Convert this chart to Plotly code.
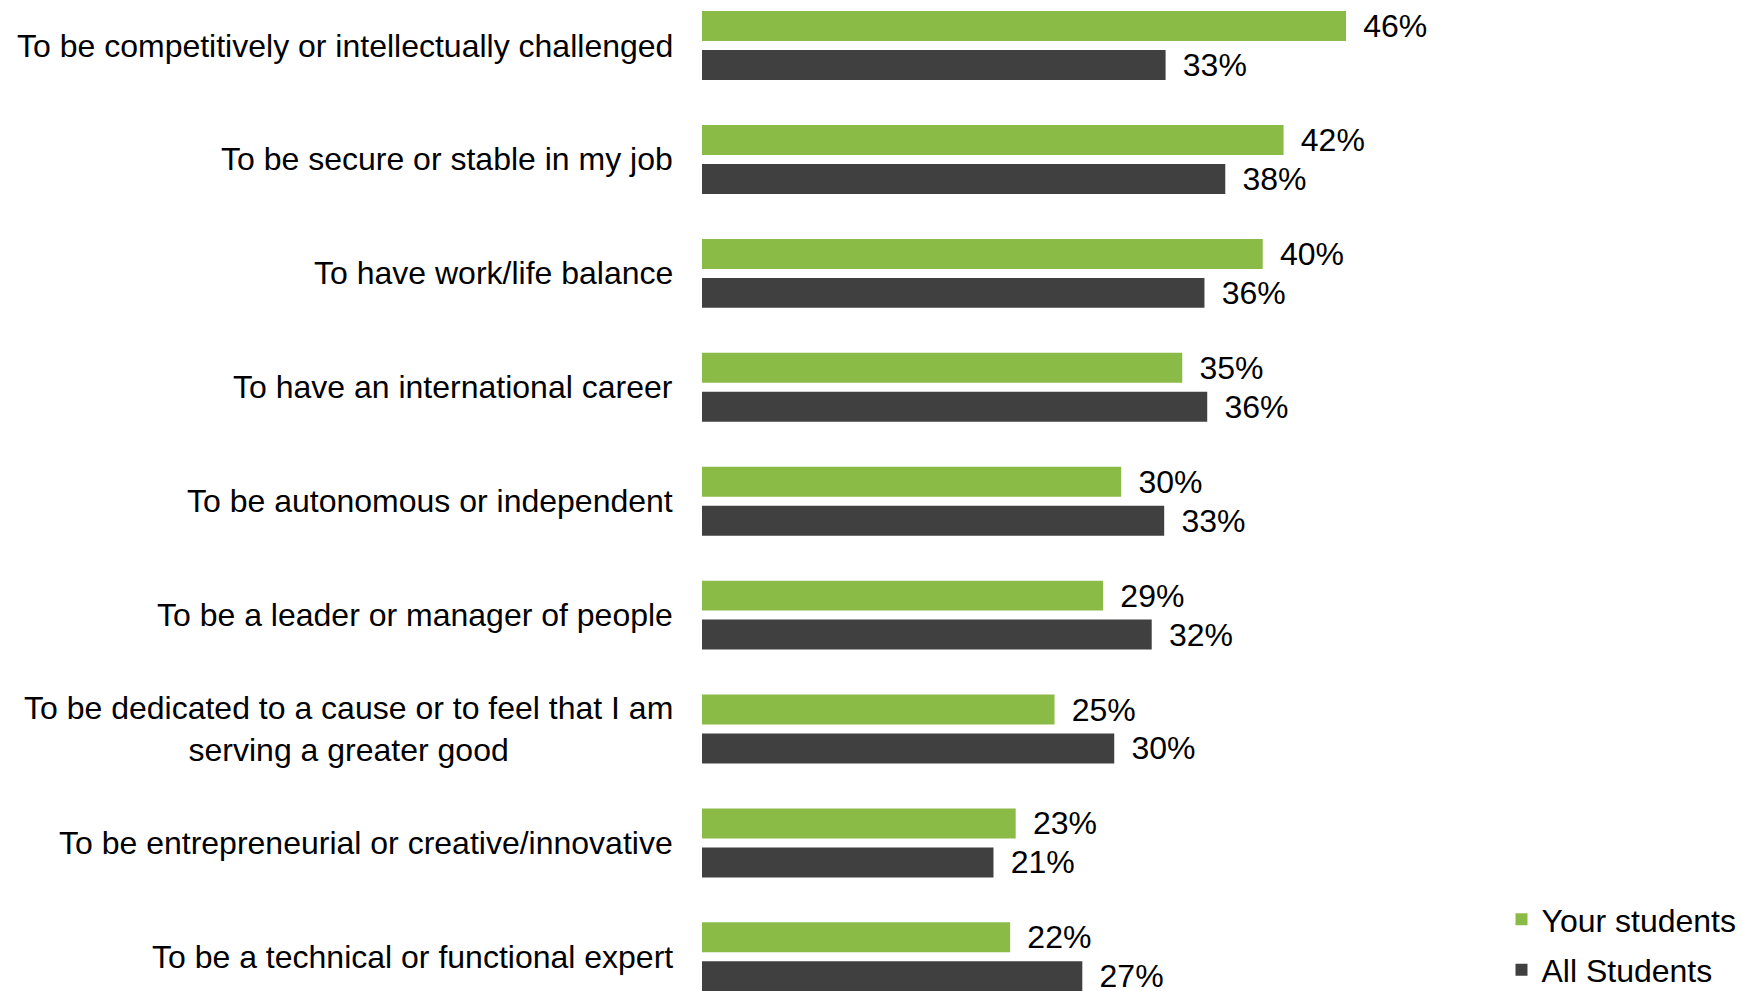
import plotly.graph_objects as go

categories = [
    "To be competitively or intellectually challenged",
    "To be secure or stable in my job",
    "To have work/life balance",
    "To have an international career",
    "To be autonomous or independent",
    "To be a leader or manager of people",
    "To be dedicated to a cause or to feel that I am<br>serving a greater good",
    "To be entrepreneurial or creative/innovative",
    "To be a technical or functional expert",
]
# values (labels show them rounded)
your_students = [46.4, 41.9, 40.4, 34.6, 30.2, 28.9, 25.4, 22.6, 22.2]
all_students = [33.4, 37.7, 36.2, 36.4, 33.3, 32.4, 29.7, 21.0, 27.4]
series_names = ["Your students", "All Students"]

GREEN = "#8BBB47"
DARK = "#404040"
FONT = "Liberation Sans, Arial, sans-serif"

fig = go.Figure()
for name, vals, col in [(series_names[0], your_students, GREEN),
                        (series_names[1], all_students, DARK)]:
    fig.add_trace(go.Bar(
        y=categories, x=vals, orientation="h", name=name,
        marker=dict(color=col, line=dict(width=0)),
        texttemplate="\u00a0\u2006%{x:.0f}%", textposition="outside",
        constraintext="none", cliponaxis=True,
        textfont=dict(family=FONT, size=32, color="#000000"),
        legendgroup=name, hoverinfo="skip",
    ))

for c in categories:
    fig.add_annotation(
        x=0, xref="paper", y=c, yref="y", xanchor="right", yanchor="middle",
        xshift=-27, text=c, showarrow=False, align="center",
        font=dict(family=FONT, size=32, color="#000000"),
    )

fig.update_layout(
    width=1743, height=991,
    margin=dict(l=702, r=0, t=0, b=0, autoexpand=False),
    paper_bgcolor="white", plot_bgcolor="white",
    barmode="group", bargap=0.316, bargroupgap=0.231,
    font=dict(family=FONT, size=32, color="#000000"),
    showlegend=True,
    legend=dict(
        x=0.768, y=0.100, xanchor="left", yanchor="top",
        traceorder="grouped", tracegroupgap=6,
        font=dict(family=FONT, size=32, color="#000000"),
        bgcolor="rgba(0,0,0,0)",
    ),
    xaxis=dict(range=[0, 1041 / 13.88], visible=False, fixedrange=True),
    yaxis=dict(
        categoryorder="array", categoryarray=categories,
        range=[8.30, -0.40], autorange=False,
        showticklabels=False, showgrid=False, zeroline=False,
        showline=False, ticks="", fixedrange=True,
    ),
)

fig.write_html(
    "out.html",
    config={"displayModeBar": False},
    post_script="document.body.style.margin='0';document.body.style.overflow='hidden';",
)
